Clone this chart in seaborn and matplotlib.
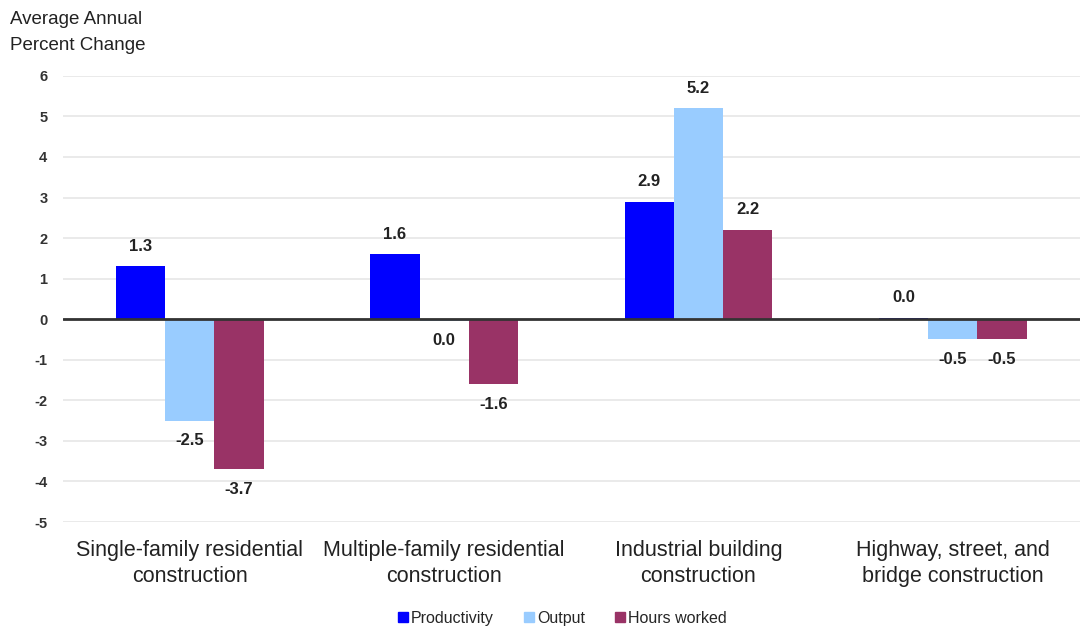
import matplotlib
matplotlib.use("Agg")
import matplotlib.pyplot as plt
from matplotlib.lines import Line2D
import seaborn as sns
import pandas as pd

categories = [
    "Single-family residential\nconstruction",
    "Multiple-family residential\nconstruction",
    "Industrial building\nconstruction",
    "Highway, street, and\nbridge construction",
]
series_names = ["Productivity", "Output", "Hours worked"]
productivity = [1.3, 1.6, 2.9, 0.03]
output = [-2.5, -0.04, 5.2, -0.5]
hours_worked = [-3.7, -1.6, 2.2, -0.5]
y_ticks = [6, 5, 4, 3, 2, 1, 0, -1, -2, -3, -4, -5]

colors = ["#0000FF", "#99CCFF", "#993366"]

rows = []
for name, vals in zip(series_names, [productivity, output, hours_worked]):
    for cat, v in zip(categories, vals):
        rows.append({"category": cat, "series": name, "value": v})
df = pd.DataFrame(rows)

sns.set_theme(style="white")
plt.rcParams["font.family"] = ["Liberation Sans", "DejaVu Sans"]

fig = plt.figure(figsize=(10.8, 6.32), dpi=100)
ax = fig.add_axes([0.058, 0.174, 0.942, 0.706])

sns.barplot(
    data=df, x="category", y="value", hue="series",
    order=categories, hue_order=series_names, palette=colors,
    width=0.58, gap=0, saturation=1, errorbar=None, legend=False,
    linewidth=0, ax=ax,
)

ax.set_xlim(-0.5, 3.5)
ax.set_ylim(-5, 6)
ax.set_yticks(y_ticks)
ax.set_yticklabels([str(t) for t in y_ticks], fontsize=10.5, fontweight="bold", color="#333333")
ax.yaxis.grid(True, color="#e6e6e6", linewidth=1.2)
ax.set_axisbelow(True)
ax.axhline(0, color="#333333", linewidth=2, zorder=3)
for s in ax.spines.values():
    s.set_visible(False)
ax.tick_params(axis="y", length=0, pad=11)
ax.tick_params(axis="x", length=0, pad=13, labelsize=15.5, labelcolor="#222222")
for lbl in ax.get_xticklabels():
    lbl.set_linespacing(1.3)
ax.set_xlabel("")
ax.set_ylabel("")

# value labels above positive bars, below negative ones
for patch in ax.patches:
    h = patch.get_height()
    if patch.get_width() == 0:
        continue
    x = patch.get_x() + patch.get_width() / 2
    sign = 1 if h >= 0 else -1
    txt = f"{abs(h):.1f}" if round(h, 1) == 0 else f"{h:.1f}"
    ax.annotate(txt, (x, h), xytext=(0, 14.5 * sign), textcoords="offset points",
                ha="center", va="center", fontsize=12, fontweight="bold", color="#222222")

fig.text(0.009, 0.982, "Average Annual\nPercent Change", ha="left", va="top",
         fontsize=13.5, color="#222222", linespacing=1.65)

handles = [Line2D([], [], marker="s", linestyle="", markersize=6.5, color=c) for c in colors]
fig.legend(handles, series_names, loc="center", bbox_to_anchor=(0.52, 0.022), ncol=3,
           frameon=False, fontsize=11.5, handletextpad=0.1, columnspacing=1.8,
           handlelength=0.8)

fig.savefig("out.png", dpi=100)
